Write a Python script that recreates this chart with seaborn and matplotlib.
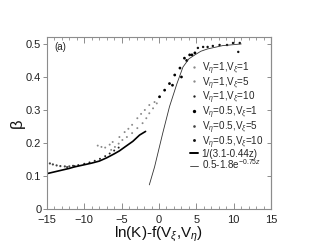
import numpy as np
import pandas as pd
import matplotlib
matplotlib.use('Agg')
import matplotlib.pyplot as plt
import seaborn as sns
from matplotlib.ticker import MultipleLocator, FuncFormatter

# --- data ---
labels = [r'V$_\eta$=1,V$_\xi$=1', r'V$_\eta$=1,V$_\xi$=5', r'V$_\eta$=1,V$_\xi$=10',
          r'V$_\eta$=0.5,V$_\xi$=1', r'V$_\eta$=0.5,V$_\xi$=5', r'V$_\eta$=0.5,V$_\xi$=10']

x1 = [-8.2, -7.7, -7.2, -6.6, -6.2, -5.3, -4.6, -4.1, -3.6, -2.9, -2.4, -1.9, -1.3, -0.6]
y1 = [0.192, 0.188, 0.186, 0.195, 0.203, 0.218, 0.233, 0.243, 0.255, 0.275, 0.288, 0.300, 0.315, 0.324]

x2 = [-6.4, -5.9, -5.4, -4.9, -4.3, -3.6, -2.9, -2.2, -1.7, -1.3, -0.8, -0.3, 0.07]
y2 = [0.179, 0.188, 0.198, 0.209, 0.218, 0.230, 0.245, 0.260, 0.275, 0.290, 0.305, 0.320, 0.340]

x3 = [-12.3, -11.5, -10.8, -10.0, -9.3, -8.6, -7.9, -7.2, -6.6, -6.0, -5.4]
y3 = [0.127, 0.131, 0.133, 0.137, 0.141, 0.146, 0.152, 0.160, 0.168, 0.177, 0.186]

x4 = [0.07, 0.75, 1.4, 1.8, 2.1, 2.8, 3.0, 3.4, 3.7, 4.1, 4.4, 4.8]
y4 = [0.340, 0.360, 0.380, 0.375, 0.406, 0.427, 0.400, 0.457, 0.450, 0.467, 0.467, 0.473]

x5 = [-15.0, -14.6, -14.2, -13.7, -13.2, -12.6, -12.0, -11.3]
y5 = [0.142, 0.138, 0.135, 0.132, 0.130, 0.129, 0.129, 0.130]

x6 = [5.2, 5.9, 6.5, 7.2, 8.1, 9.1, 9.9, 10.8, 10.6]
y6 = [0.488, 0.491, 0.491, 0.494, 0.497, 0.497, 0.503, 0.503, 0.476]

# fitted curves
thick_x = [-15, -13.5, -12, -11.4, -10, -9, -8, -7, -6, -5.3, -4.5, -3.5, -2.6, -1.8]
thick_y = [0.107, 0.115, 0.123, 0.127, 0.134, 0.139, 0.145, 0.155, 0.167, 0.176, 0.189, 0.205, 0.224, 0.235]
thin_x = [-1.3, -0.6, 0.5, 1.4, 2.4, 3.2, 4.0, 4.8, 5.6, 6.5, 7.5, 8.5, 9.5, 11.0]
thin_y = [0.073, 0.127, 0.230, 0.310, 0.380, 0.430, 0.455, 0.467, 0.478, 0.485, 0.490, 0.495, 0.497, 0.500]
curve_labels = ['1/(3.1-0.44z)', r'0.5-1.8e$^{-0.75z}$']

series = [(x1, y1), (x2, y2), (x3, y3), (x4, y4), (x5, y5), (x6, y6)]
colors = ['#8a8a8a', '#8a8a8a', '#222222', '#000000', '#444444', '#111111']
sizes = [2, 2, 2, 4, 2.5, 3]

# --- plot ---
sns.set_style('ticks')
plt.rcParams['font.family'] = ['Liberation Sans', 'DejaVu Sans']
plt.rcParams['mathtext.fontset'] = 'custom'
plt.rcParams['mathtext.rm'] = 'Liberation Sans'
plt.rcParams['mathtext.it'] = 'Liberation Sans:italic'

fig = plt.figure(figsize=(3.19, 2.47), dpi=100)
ax = fig.add_axes([0.147, 0.154, 0.703, 0.696])

handles = []
for (xs, ys), lab, c, s in zip(series, labels, colors, sizes):
    sns.scatterplot(x=xs, y=ys, ax=ax, s=s, color=c, edgecolor='none', legend=False)
    handles.append(plt.Line2D([], [], ls='none', marker='o', ms=np.sqrt(s), color=c, mec='none', label=lab))

sns.lineplot(x=thick_x, y=thick_y, ax=ax, color='black', lw=1.2, sort=False)
sns.lineplot(x=thin_x, y=thin_y, ax=ax, color='#333333', lw=0.6, sort=False)
handles.append(plt.Line2D([], [], color='black', lw=1.4, label=curve_labels[0]))
handles.append(plt.Line2D([], [], color='#333333', lw=0.6, label=curve_labels[1]))

ax.set_xlim(-15, 15)
ax.set_ylim(0, 0.521)
ax.xaxis.set_major_locator(MultipleLocator(5))
ax.xaxis.set_minor_locator(MultipleLocator(1))
ax.yaxis.set_major_locator(MultipleLocator(0.1))
ax.yaxis.set_major_formatter(FuncFormatter(lambda v, p: '0' if abs(v) < 1e-9 else f'{v:.1f}'))

for sp in ax.spines.values():
    sp.set_color('#8c8c8c')
    sp.set_linewidth(0.8)
    sp.set_visible(True)

ax.tick_params(axis='x', which='both', direction='in', bottom=True, top=True,
               colors='#8c8c8c', labelcolor='#222222', labelsize=8, pad=4)
ax.tick_params(axis='x', which='major', length=4, width=0.7)
ax.tick_params(axis='x', which='minor', length=2.5, width=0.6)
ax.tick_params(axis='y', which='major', direction='out', left=True, right=False, length=3,
               width=0.7, colors='#8c8c8c', labelcolor='#222222', labelsize=8, pad=1)

right = ax.secondary_yaxis('right')
right.yaxis.set_major_locator(MultipleLocator(0.1))
right.tick_params(direction='in', length=3, width=0.7, colors='#8c8c8c', labelright=False)
right.spines['right'].set_color('#8c8c8c')

ax.set_xlabel(r'ln(K)-f(V$_\xi$,V$_\eta$)', fontsize=11, color='#111111', labelpad=0)
ax.set_ylabel('β', fontsize=12, color='#111111', labelpad=1)
ax.text(0.035, 0.94, '(a)', transform=ax.transAxes, fontsize=7, va='center', ha='left', color='#222222')

ax.legend(handles=handles, loc='upper left', bbox_to_anchor=(0.64, 0.865), frameon=False,
          fontsize=7.1, handlelength=0.8, handletextpad=0.35, labelspacing=-0.1, borderpad=0,
          borderaxespad=0, markerscale=1.2)

fig.savefig('out.png', dpi=100)
